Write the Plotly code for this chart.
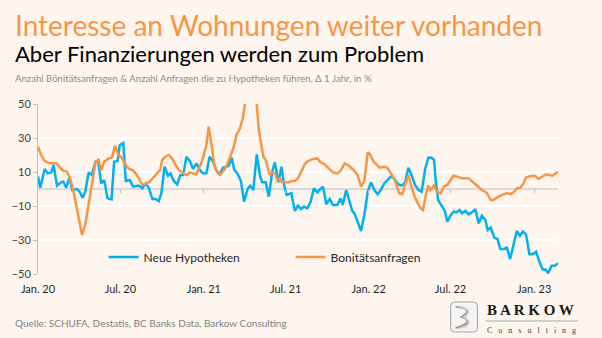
import plotly.graph_objects as go

# ---- data (x = weeks since start of Jan 2020) ----
hyp_weeks = [0, 0.7, 2.1, 3.1, 4.2, 4.9, 6, 7.3, 8, 8.9, 9.9, 10.8, 12.3, 13.1, 14.1, 14.9, 16, 17,
             18.1, 19, 19.9, 20.9, 21.9, 23.2, 24, 25.1, 25.8, 26.9, 27.7, 28.9, 30, 31.7, 32.9, 34,
             35, 36.1, 37.1, 38.1, 38.9, 39.9, 41, 41.8, 42.8, 43.9, 44.9, 45.8, 46.8, 47.9, 48.9, 50,
             51, 52, 53.1, 54.1, 55.2, 56.2, 57.3, 58.3, 59.4, 60.1, 61.1, 61.9, 62.9, 64, 65, 66.1,
             66.9, 67.9, 69, 70, 70.7, 71.8, 72.8, 73.9, 74.7, 75.8, 76.8, 77.6, 78.4, 79.4, 79.9, 81,
             82, 82.9, 83.9, 84.9, 86, 87, 88.1, 89.1, 89.9, 90.9, 92, 93, 94.4, 95.4, 96.1, 97.2, 98.2,
             99.1, 99.8, 100.8, 101.9, 102.9, 104, 105, 106.1, 107.1, 108.1, 109.2, 110.2, 111.6, 112.6,
             113.7, 114.7, 115.8, 116.8, 117.9, 118.9, 120, 121, 122.1, 123.1, 124.1, 124.9, 125.4,
             126.2, 127.5, 128.3, 129.1, 130.1, 131.1, 132, 133, 133.7, 134.8, 135.8, 136.9, 137.9, 139,
             140, 141.1, 141.8, 142.8, 143.9, 144.9, 145.8, 146.8, 147.9, 148.9, 149.9, 151, 152, 152.9,
             153.9, 155, 156, 157.1, 158.1, 159.1, 160.2, 160.9, 162, 163, 164]
hyp_values = [7.3, 0.8, 11.8, 9.2, 9.8, 14.1, 2, 3.9, 4.3, 0.8, 6.7, -0.6, 0, -1.6, -5.1, -1.6, 9.8, 8.2,
              16, 16.5, 3.3, 5.3, -5.5, -6.1, 16, 16.5, 25.9, 27, 4.7, 5.3, 1.4, 2, 0.4, 3.3,
              0.4, -5.9, -5.9, -7.1, -2.5, 13.1, 7.8, 9.2, 4.7, 2.7, 8.2, 8.2, 19, 16.5, 11.8, 15.1,
              11.2, 9.2, 9.2, 19, 16.1, 11.2, 8.6, 12.5, 13.1, 13.7, 18.4, 11.2, 9.2, 4.7, -7.5, 0,
              2, -0.6, 20.4, 7.8, 3.9, 3.9, -4.5, 10.6, 15.7, 3.9, 13.1, 2.4, -3.5, -3.1, -2.5, -12.9,
              -9.8, -11.8, -10.4, -11.4, -7.5, 0.4, -2, 0, 1.4, -9, -5.9, -9.4, -9.4, -5.5, -9.4, -0.6, -7.5,
              -12.9, -14.3, -19.6, -24.7, -15.3, -1.6, 3.9, -0.6, -3.1, -0.6, 3.3, 5.3, 7.8, 5.3,
              2.7, 2, 3.9, 12.5, 7.8, 2.4, -0.6, -1.6, 11.8, 18.4, 18.4, 17.1, 5.3,
              -6.5, -10.4, -12.9, -19.2, -15.6, -13.3, -13.7, -12.4, -14.3, -12.9, -14.9, -13.7, -11.8, -20.2,
              -15.7, -18.2, -24.1, -22.7, -28.6, -29.4, -35.3, -35.3, -34.5, -41.2, -32.9, -24.7, -27.5, -25.1,
              -26.7, -38.4, -38.4, -36.9, -42.7, -47.1, -47.6, -49.6, -45.1, -45.1, -43.7]

bon_weeks = [0, 1, 2.1, 3.7, 5.7, 7, 8, 8.9, 9.9, 11, 12, 13.1, 13.9, 14.9, 16, 17, 18.1, 19.1, 19.9,
             20.9, 22.3, 23.3, 24.3, 25.4, 26.4, 27.7, 28.7, 29.8, 30.8, 31.9, 32.9, 35, 36.4, 37.4,
             38.5, 39.2, 40.2, 41.3, 42.3, 43.4, 44.4, 45.5, 46.8, 47.9, 49.1, 49.9, 51, 52, 53.1, 53.8,
             54.9, 55.6, 56.4, 57.5, 58.5, 59.6, 60.6, 61.6, 62.7, 63.7, 64.6, 65.3, 66, 67, 68.3, 68.96,
             69.7, 70.5, 71.1, 71.8, 72.6, 73.1, 73.9, 74.7, 75.5, 76.3, 76.8, 77.8, 78.9, 79.9, 81, 82,
             83.1, 84.1, 85.2, 86.7, 88.1, 89.1, 90.4, 91.6, 93, 94.4, 95.4, 96.7, 97.9, 99.5, 100.8,
             101.9, 102.9, 104, 104.7, 105.8, 106.8, 107.8, 109.2, 110.2, 111.3, 112.6, 113.9, 114.9,
             115.8, 116.8, 117.6, 118.6, 119.6, 120.7, 121.4, 122.3, 123.1, 123.8, 124.9, 125.9, 127,
             128, 129.1, 130.1, 131, 132.2, 133.7, 135.8, 137.2, 138.4, 140, 141.4, 142.1, 142.8, 143.7,
             145.2, 146.8, 148.1, 149.1, 150.2, 151, 152.2, 153.1, 153.9, 155.2, 156.7, 157.8, 159.1,
             160.2, 161.2, 162.3, 163.3, 164]
bon_values = [24.9, 20, 16.5, 15.1, 15.1, 12.5, 10.6, 10.6, 7.3, 0.4, -9.4, -19.2, -27, -21.2, -9.4, 3.3, 15.1, 17.6, 11.2,
              16.1, 18, 18.4, 25.5, 20, 18.4, 14.1, 11.8, 11.2, 9.2, 5.9, 2.4, 3.9, 6.7, 9.2,
              11.2, 17.1, 19, 20, 18, 14.1, 11.2, 9.8, 8.2, 9.8, 9.2, 8.6, 13.1, 18, 25.9, 36.7,
              23.9, 14.1, 10.2, 8.6, 10.6, 14.1, 19, 23.9, 32.2, 35.7, 41.6, 50.4, 60, 72, 60, 50.4,
              33.7, 23.9, 19, 17.1, 11.2, 8.2, 9.8, 9.2, 5.3, 6.3, 4.3, 3.9, 3.9, 4.7, 4.7, 6.3,
              10.2, 14.5, 16.5, 17.6, 18, 15.7, 14.5, 12.5, 9.8, 9.2, 10.6, 15.1, 13.9, 11.2, 8.2,
              1.4, 4.7, 21.6, 20.4, 16.1, 14.5, 12.5, 13.1, 12.5, 9.2, 4.7, -2.5, -3.1,
              2.4, 8.2, 2.7, -3.5, -7.8, -11.4, -12.4, -3.5, 2, -0.6, 2, -1.6, -2.5,
              1.4, 2.4, 5.6, 7.8, 7.3, 6.3, 6.3, 3.9, 2.4, -0.6, -2, -4.5, -6.5, -6.5,
              -4.5, -3.1, -2.5, -3.1, -1.6, 0.4, 0.8, 3.3, 6.7, 7.5, 7.8, 5.9, 7.3,
              8.6, 8.2, 7.8, 9.2, 10.2]

tick_weeks = [0, 26, 52.3, 78.1, 104.3, 130.1, 156.5]
tick_labels = ["Jan. 20", "Jul. 20", "Jan. 21", "Jul. 21", "Jan. 22", "Jul. 22", "Jan. 23"]
y_ticks = [-50, -30, -10, 10, 30, 50]

BG = "#FEF6EE"
BLUE = "#00B0F0"
ORANGE = "#F79646"
FONT = "Lato"

# plot area in pixels (for placing decorations only)
L, R, T, B = 35, 558, 104, 274


def px(xp):
    return (xp - L) / (R - L)


def py(yp):
    return (B - yp) / (B - T)


fig = go.Figure()
fig.add_trace(go.Scatter(x=hyp_weeks, y=hyp_values, mode="lines", name="Neue Hypotheken",
                         line=dict(color=BLUE, width=2.5)))
fig.add_trace(go.Scatter(x=bon_weeks, y=bon_values, mode="lines", name="Bonitätsanfragen",
                         line=dict(color=ORANGE, width=2.5)))
fig.add_trace(go.Scatter(x=[], y=[], xaxis="x2", showlegend=False, hoverinfo="skip"))

fig.update_layout(
    width=602, height=338,
    margin=dict(l=L, r=602 - R, t=T, b=338 - B),
    paper_bgcolor=BG, plot_bgcolor=BG,
    font=dict(family=FONT, color="#404040"),
    showlegend=True,
    legend=dict(orientation="h", x=px(101), y=py(257), xanchor="left", yanchor="middle",
                bgcolor="rgba(0,0,0,0)", font=dict(size=12, color="#262626"),
                entrywidth=142, itemwidth=30),
    xaxis=dict(range=[0, 164], tickvals=tick_weeks, ticktext=tick_labels, showgrid=False,
               zeroline=False, showline=False, ticks="", ticklabelstandoff=7,
               tickfont=dict(size=11, color="#262626")),
    xaxis2=dict(overlaying="x", anchor="free", position=0.5, range=[0, 164], tickvals=tick_weeks[1:],
                showticklabels=False, ticks="outside", ticklen=3, tickcolor="#BFBFBF", tickwidth=1,
                showgrid=False, zeroline=False, showline=False),
    yaxis=dict(range=[-50, 50], tickvals=y_ticks, showgrid=True, gridcolor="#FFFFFF", gridwidth=1.5,
               zeroline=True, zerolinecolor="#D9D9D9", zerolinewidth=1.5,
               showline=True, linecolor="#BFBFBF", linewidth=1, ticks="outside", ticklen=4,
               tickcolor="#BFBFBF", tickfont=dict(size=11, color="#404040")),
)

ann = [
    dict(text="Interesse an Wohnungen weiter vorhanden", x=px(10), y=py(25), font=dict(size=28, color=ORANGE)),
    dict(text="Aber Finanzierungen werden zum Problem", x=px(10), y=py(54), font=dict(size=22, color="#000000")),
    dict(text="Anzahl Bönitätsanfragen & Anzahl Anfragen die zu Hypotheken führen, Δ 1 Jahr, in %",
         x=px(10), y=py(78), font=dict(size=9.6, color="#8C8C8C")),
    dict(text="Quelle: SCHUFA, Destatis, BC Banks Data, Barkow Consulting", x=px(10), y=py(323),
         font=dict(size=10, color="#7F7F7F")),
]
for a in ann:
    fig.add_annotation(xref="paper", yref="paper", xanchor="left", yanchor="middle", showarrow=False, **a)

# logo
def rounded_rect(x0, y0, x1, y1, r):
    return (f"M {px(x0 + r)} {py(y0)} L {px(x1 - r)} {py(y0)} Q {px(x1)} {py(y0)} {px(x1)} {py(y0 + r)} "
            f"L {px(x1)} {py(y1 - r)} Q {px(x1)} {py(y1)} {px(x1 - r)} {py(y1)} "
            f"L {px(x0 + r)} {py(y1)} Q {px(x0)} {py(y1)} {px(x0)} {py(y1 - r)} "
            f"L {px(x0)} {py(y0 + r)} Q {px(x0)} {py(y0)} {px(x0 + r)} {py(y0)} Z")


fig.add_shape(type="path", xref="paper", yref="paper", path=rounded_rect(450, 302, 477, 332, 4),
              line=dict(color="#A6A6A6", width=1), fillcolor="#F4F4F4")
for off, col in [(0, "#8C8C8C"), (2.5, "#B0B0B0"), (5, "#CFCFCF")]:
    p = (f"M {px(455 + off)} {py(307)} Q {px(474)} {py(308 + off / 2)} {px(461 + off / 2)} {py(317)} "
         f"Q {px(475)} {py(322 + off / 2)} {px(455 + off)} {py(328)}")
    fig.add_shape(type="path", xref="paper", yref="paper", path=p, line=dict(color=col, width=1.6))

fig.add_annotation(xref="paper", yref="paper", x=px(485), y=py(309.5), xanchor="left",
                   yanchor="middle", text="B A R K O W", showarrow=False,
                   font=dict(family="Liberation Serif", size=15, color="#1A1A1A", weight="bold"))
fig.add_shape(type="line", xref="paper", yref="paper", x0=px(485), x1=px(578),
              y0=py(321), y1=py(321), line=dict(color="#A6A6A6", width=1))
fig.add_annotation(xref="paper", yref="paper", x=px(485), y=py(330), xanchor="left",
                   yanchor="middle", text="C   o   n   s   u   l   t   i   n   g", showarrow=False,
                   font=dict(family="Liberation Serif", size=8, color="#404040"))

fig.write_html("out.html")
